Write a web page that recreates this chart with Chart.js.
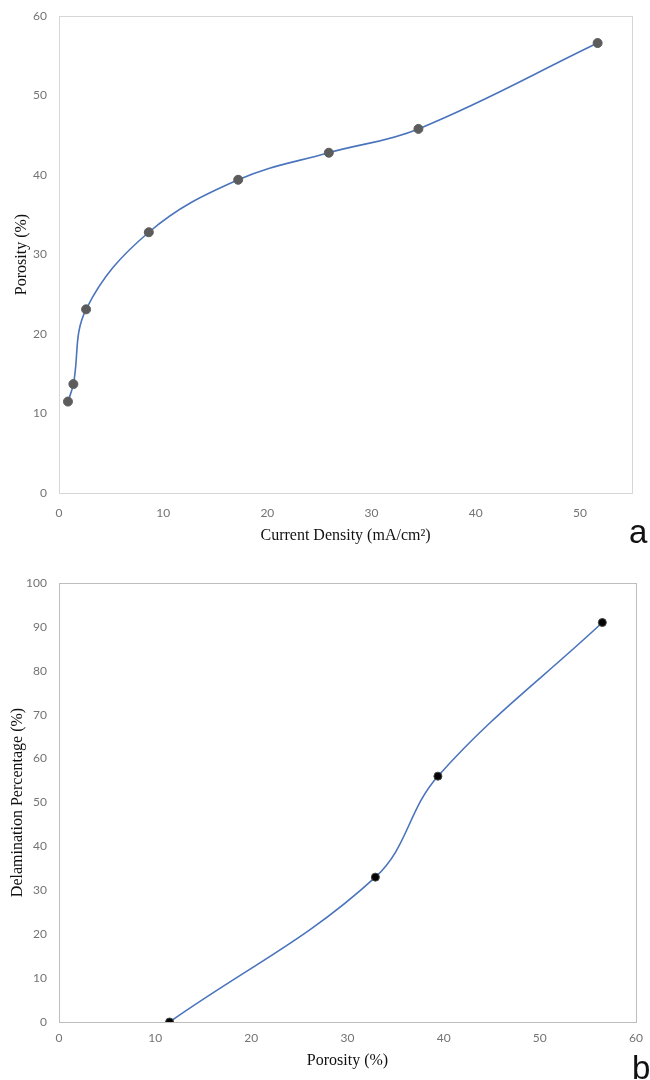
<!DOCTYPE html>
<html>
<head>
<meta charset="utf-8">
<script src="https://cdn.jsdelivr.net/npm/chart.js@4"></script>
<style>
  body { margin: 0; background: #fff; }
  .wrap { position: absolute; left: 0; width: 650px; }
  .tag { position: absolute; font-family: "Liberation Sans", Arial, sans-serif; font-size: 33px; color: #111; line-height: 1; }
</style>
</head>
<body>
<div class="wrap" style="top:0;height:550px;"><canvas id="chartA" width="650" height="550"></canvas></div>
<div class="wrap" style="top:550px;height:530px;"><canvas id="chartB" width="650" height="530"></canvas></div>
<div class="tag" style="left:629px;top:515px;">a</div>
<div class="tag" style="left:632px;top:1051px;">b</div>
<script>
// chart a: porosity vs current density
const currentDensity = [0.86, 1.38, 2.6, 8.62, 17.2, 25.9, 34.5, 51.7];
const porosityA = [11.5, 13.7, 23.1, 32.8, 39.4, 42.8, 45.8, 56.6];

// chart b: delamination vs porosity
const porosityB = [11.5, 32.9, 39.4, 56.5];
const delamination = [0, 33, 56, 91];

const lineBlue = "#4a74bd";

// light frame round the plot area
const framePlugin = {
    id: "frame",
    afterDraw(chart, args, opts) {
        const a = chart.chartArea;
        const c = chart.ctx;
        c.save();
        c.strokeStyle = opts.color;
        c.lineWidth = 1;
        c.strokeRect(Math.round(a.left) + 0.5, Math.round(a.top) + 0.5,
            Math.round(a.right - a.left), Math.round(a.bottom - a.top));
        c.restore();
    }
};

function toPoints(xs, ys) {
    return xs.map((x, i) => ({ x: x, y: ys[i] }));
}

function makeChart(id, cfg) {
    return new Chart(document.getElementById(id), {
        type: "scatter",
        data: {
            datasets: [{
                data: toPoints(cfg.xs, cfg.ys),
                showLine: true,
                borderColor: lineBlue,
                borderWidth: 1.6,
                tension: 0.38,
                pointRadius: cfg.pointRadius,
                pointBackgroundColor: cfg.pointColor,
                pointBorderColor: cfg.pointBorder,
                pointBorderWidth: 1
            }]
        },
        options: {
            responsive: false,
            animation: false,
            layout: { padding: cfg.padding },
            plugins: {
                legend: { display: false },
                tooltip: { enabled: false },
                frame: { color: cfg.frameColor }
            },
            scales: {
                x: {
                    type: "linear",
                    min: 0,
                    max: cfg.xMax,
                    grid: { display: false },
                    border: { display: false },
                    ticks: {
                        stepSize: 10,
                        includeBounds: false,
                        padding: cfg.xTickPad,
                        color: "#737373",
                        font: { family: "Lato", size: 12 }
                    },
                    title: {
                        display: true,
                        text: cfg.xTitle,
                        color: "#111",
                        font: { family: "Liberation Serif", size: 16 },
                        padding: { top: 0, bottom: cfg.xTitlePad }
                    },
                    afterFit(scale) { scale.height = cfg.xHeight; }
                },
                y: {
                    min: 0,
                    max: cfg.yMax,
                    grid: { display: false },
                    border: { display: false },
                    ticks: {
                        stepSize: 10,
                        padding: 4,
                        color: "#737373",
                        font: { family: "Lato", size: 12 }
                    },
                    title: {
                        display: true,
                        text: cfg.yTitle,
                        color: "#111",
                        font: { family: "Liberation Serif", size: 16 },
                        padding: { top: cfg.yTitlePad, bottom: 0 }
                    },
                    afterFit(scale) { scale.width = 59; }
                }
            }
        },
        plugins: [framePlugin]
    });
}

makeChart("chartA", {
    xs: currentDensity, ys: porosityA,
    xMax: 55, yMax: 60,
    xTitle: "Current Density (mA/cm²)", yTitle: "Porosity (%)",
    pointRadius: 4.5, pointColor: "#5c5c5c", pointBorder: "#5c5c5c",
    frameColor: "#d6d6d6",
    padding: { top: 16, right: 18, left: 0, bottom: 0 },
    xHeight: 57, xTickPad: 5, xTitlePad: 5, yTitlePad: 12
});

makeChart("chartB", {
    xs: porosityB, ys: delamination,
    xMax: 60, yMax: 100,
    xTitle: "Porosity (%)", yTitle: "Delamination Percentage (%)",
    pointRadius: 4, pointColor: "#050505", pointBorder: "#444",
    frameColor: "#bdbdbd",
    padding: { top: 33, right: 14, left: 0, bottom: 0 },
    xHeight: 58, xTickPad: 1, xTitlePad: 10, yTitlePad: 8
});
</script>
</body>
</html>
